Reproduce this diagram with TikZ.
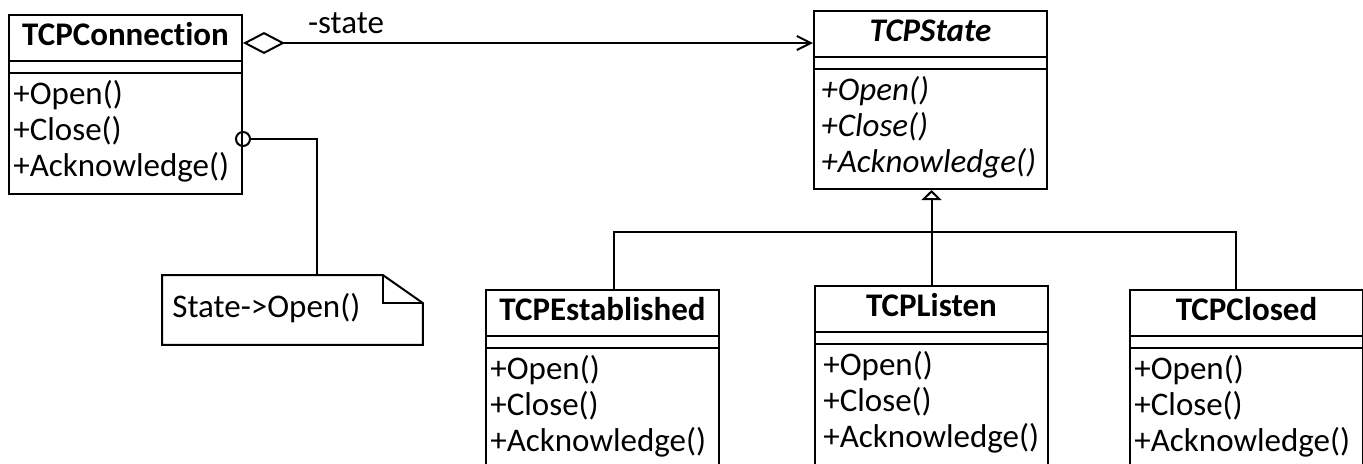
\documentclass[tikz,border=0pt]{standalone}
\usepackage{fontspec}
\setmainfont{Carlito}[Ligatures=NoCommon]
\usetikzlibrary{arrows.meta}

\tikzset{
  classbox/.style={draw, line width=1pt, anchor=north west, inner sep=0pt, minimum width=116.5pt},
  classname/.style={anchor=base, inner sep=0pt, font=\fontsize{16.5}{18}\selectfont\bfseries},
  member/.style={anchor=base west, inner sep=0pt, font=\fontsize{16.5}{18}\selectfont},
  link/.style={line width=1pt},
}

\begin{document}
\begin{tikzpicture}[x=0.5pt, y=-0.5pt]
      \useasboundingbox (0,0) rectangle (1363,463);
      \clip (0,0) rectangle (1363,463);
      % context
      \node[classbox, minimum height=89.5pt] (conn) at (8,14) {};
      \node[classname] (conn-name) at ([yshift=-15.75pt]conn.north) {TCPConnection};
      \foreach \m [count=\i from 0] in {+Open(),+Close(),+Acknowledge()}
        \node[member] (conn-\i) at ([xshift=2.5pt, yshift=-45pt-18pt*\i]conn.north west) {\m};
      % abstract state
      \node[classbox, minimum height=89pt] (state) at (813,10) {};
      \node[classname, font=\fontsize{16.5}{18}\selectfont\bfseries\itshape] (state-name) at ([yshift=-15.75pt]state.north) {TCPState};
      \foreach \m [count=\i from 0] in {+Open(),+Close(),+Acknowledge()}
        \node[member, font=\fontsize{16.5}{18}\selectfont\itshape] (state-\i) at ([xshift=4pt, yshift=-45pt-18pt*\i]state.north west) {\m};
      % concrete states
      \node[classbox, minimum height=100pt] (estab) at (485,289) {};
      \node[classname] (estab-name) at ([yshift=-15.75pt]estab.north) {TCPEstablished};
      \foreach \m [count=\i from 0] in {+Open(),+Close(),+Acknowledge()}
        \node[member] (estab-\i) at ([xshift=2.5pt, yshift=-45pt-18pt*\i]estab.north west) {\m};
      \node[classbox, minimum height=100pt] (listen) at (814,285) {};
      \node[classname] (listen-name) at ([yshift=-15.75pt]listen.north) {TCPListen};
      \foreach \m [count=\i from 0] in {+Open(),+Close(),+Acknowledge()}
        \node[member] (listen-\i) at ([xshift=4.5pt, yshift=-45pt-18pt*\i]listen.north west) {\m};
      \node[classbox, minimum height=100pt] (closed) at (1129,289) {};
      \node[classname] (closed-name) at ([yshift=-15.75pt]closed.north) {TCPClosed};
      \foreach \m [count=\i from 0] in {+Open(),+Close(),+Acknowledge()}
        \node[member] (closed-\i) at ([xshift=2.5pt, yshift=-45pt-18pt*\i]closed.north west) {\m};
      % compartments
      \foreach \n in {conn,state,estab,listen,closed} {
        \draw[link] ([yshift=-23.5pt]\n.north west) -- ([yshift=-23.5pt]\n.north east);
        \draw[link] ([yshift=-29.5pt]\n.north west) -- ([yshift=-29.5pt]\n.north east);
      }
      % note
      \node[anchor=north west, inner sep=0pt, minimum width=130pt, minimum height=34.5pt] (note) at (162,275) {};
      \draw[link] (note.north west) -- ([xshift=-20pt]note.north east) -- ([yshift=-14pt]note.north east) -- (note.south east) -- (note.south west) -- cycle;
      \draw[link] ([xshift=-20pt]note.north east) |- ([yshift=-14pt]note.north east);
      \node[member] (note-text) at ([xshift=5pt, yshift=-21pt]note.north west) {State->Open()};
      % connectors
      \draw[link, {Diamond[open, length=21pt, width=11pt]}-{Straight Barb[length=7pt, width=7pt]}] ([yshift=-14.5pt]conn.north east) -- node[member, pos=0, xshift=32pt, yshift=5pt] (state-role) {-state} ([yshift=-16.5pt]state.north west);
      \coordinate (knob) at ([yshift=-17.25pt]conn.east);
      \draw[link] (knob) circle (3.5pt);
      \draw[link] ([xshift=3.5pt]knob) -| ([xshift=12.5pt]note.north);
      \draw[link, -{Triangle[open, length=5pt, width=10pt]}] (listen.north) -- (listen.north |- state.south);
      \coordinate (bus) at (930,232);
      \draw[link] ([xshift=5.5pt]estab.north) |- (bus) -| ([xshift=-5.5pt]closed.north);
    \end{tikzpicture}
\end{document}
